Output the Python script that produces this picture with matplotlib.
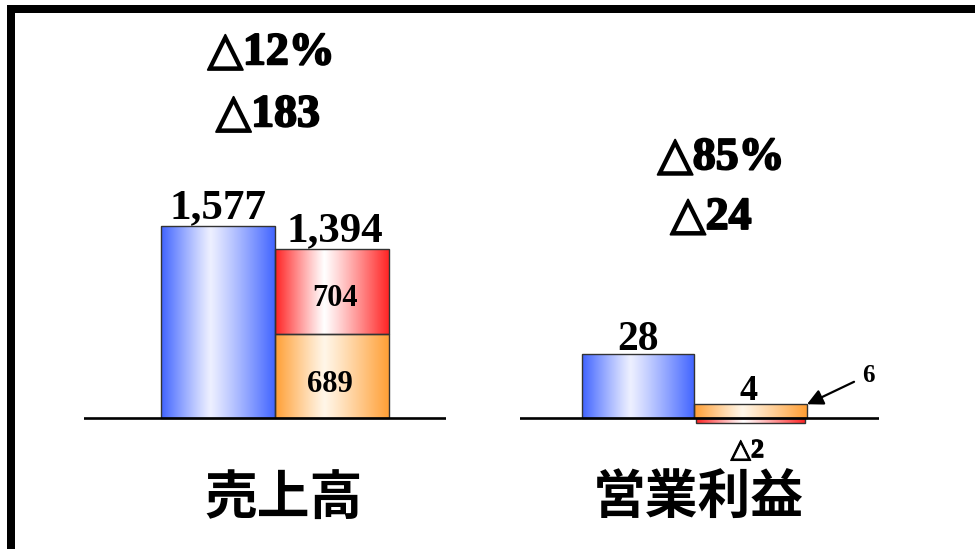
import numpy as np
import matplotlib
matplotlib.use('Agg')
import matplotlib.pyplot as plt
import matplotlib.patheffects as pe
from matplotlib.patches import Rectangle

# data
categories = ['売上高', '営業利益']
prev_vals = [1577, 28]
part_a = [689, 6]      # orange part
part_b = [704, -2]     # red part
cur_total = [1394, 4]
delta_pct = ['△12%', '△85%']
delta_abs = ['△183', '△24']

num_font = ['Liberation Serif', 'DejaVu Sans']
cjk_font = ['Noto Sans CJK JP']
heavy = [pe.withStroke(linewidth=1.4, foreground='k')]


def grad(edge, center, peak=0.43, n=256):
    t = np.linspace(0, 1, n)
    d = np.where(t < peak, (peak - t) / peak, (t - peak) / (1 - peak))
    w = d ** 1.1
    edge = np.array(edge)
    center = np.array(center)
    rgb = center[None, :] * (1 - w[:, None]) + edge[None, :] * w[:, None]
    return rgb[None, :, :]


blue_g = grad((0.25, 0.39, 1.0), (0.93, 0.94, 1.0))
orange_g = grad((1.0, 0.62, 0.2), (1.0, 0.965, 0.91))
red_g = grad((1.0, 0.13, 0.13), (1.0, 1.0, 1.0))


def gbar(ax, x, h, bottom, g, width):
    b = ax.bar(x, h, width=width, bottom=bottom, facecolor='none',
               edgecolor='#333333', lw=1, zorder=3)[0]
    y0, y1 = sorted([b.get_y(), b.get_y() + b.get_height()])
    im = ax.imshow(g, extent=[b.get_x(), b.get_x() + b.get_width(), y0, y1],
                   aspect='auto', zorder=2, interpolation='bilinear')
    im.set_clip_path(b)
    return b


fig = plt.figure(figsize=(9.75, 5.49), dpi=100)
W, H = 975., 549.
base = 131.  # baseline px from bottom

# left group: 売上高
ax1 = fig.add_axes([84 / W, 0, 362 / W, 1])
s1 = 0.1215
ax1.set_ylim(-base / s1, (H - base) / s1)
bw = 1.0
gbar(ax1, 0, prev_vals[0], 0, blue_g, bw)
gbar(ax1, 1, part_a[0], 0, orange_g, bw)
gbar(ax1, 1, part_b[0], part_a[0], red_g, bw)
ax1.set_xlim(-1.17, 2.0)

# right group: 営業利益
ax2 = fig.add_axes([520 / W, 0, 359 / W, 1])
s2 = 2.29
ax2.set_ylim(-base / s2, (H - base) / s2)
gbar(ax2, 0, prev_vals[1], 0, blue_g, bw)
gbar(ax2, 1, part_a[1], 0, orange_g, bw)
gbar(ax2, 1, part_b[1], 0, red_g, bw * 0.97)
ax2.set_xlim(-1.05, 2.14)

for ax in (ax1, ax2):
    ax.axhline(0, color='k', lw=1.9, zorder=4)
    ax.axis('off')

# value labels
ax1.annotate(f'{prev_vals[0]:,}', (0, prev_vals[0]), xytext=(0, 6), textcoords='offset points',
             ha='center', va='baseline', fontsize=31, fontweight='bold', family=num_font)
ax1.annotate(f'{cur_total[0]:,}', (1, cur_total[0]), xytext=(2, 5), textcoords='offset points',
             ha='center', va='baseline', fontsize=31, fontweight='bold', family=num_font)
ax1.annotate(f'{part_b[0]:,}', (1.03, part_a[0] + part_b[0] / 2), xytext=(0, -5),
             textcoords='offset points', ha='center', va='center',
             fontsize=22, fontweight='bold', family=num_font, zorder=5)
ax1.annotate(f'{part_a[0]:,}', (0.98, part_a[0] / 2), xytext=(0, -6),
             textcoords='offset points', ha='center', va='center',
             fontsize=22, fontweight='bold', family=num_font, zorder=5)

ax2.annotate(f'{prev_vals[1]}', (0, prev_vals[1]), xytext=(0, 3), textcoords='offset points',
             ha='center', va='baseline', fontsize=30, fontweight='bold', family=num_font)
ax2.annotate(f'{cur_total[1]}', (0.98, part_a[1]), xytext=(0, 3), textcoords='offset points',
             ha='center', va='baseline', fontsize=26, fontweight='bold', family=num_font)
ax2.annotate(f'{part_a[1]}', (1.5, part_a[1]), xytext=(44, 21), textcoords='offset points',
             ha='center', va='center', fontsize=18, fontweight='bold', family=num_font,
             arrowprops=dict(arrowstyle='-|>', color='k', lw=1.6, mutation_scale=24,
                             shrinkA=4, shrinkB=0))
ax2.annotate(f'△{abs(part_b[1])}', (0.97, part_b[1]), xytext=(0, -12), textcoords='offset points',
             ha='center', va='top', fontsize=19, fontweight='bold', family=num_font,
             path_effects=[pe.withStroke(linewidth=0.8, foreground='k')])

# change labels
ax1.text(0.517, 0.903, delta_pct[0], transform=ax1.transAxes, ha='center', va='center',
         fontsize=33, fontweight='bold', family=num_font, path_effects=heavy)
ax1.text(0.508, 0.790, delta_abs[0], transform=ax1.transAxes, ha='center', va='center',
         fontsize=33, fontweight='bold', family=num_font, path_effects=heavy)
ax2.text(0.56, 0.712, delta_pct[1], transform=ax2.transAxes, ha='center', va='center',
         fontsize=33, fontweight='bold', family=num_font, path_effects=heavy)
ax2.text(0.532, 0.603, delta_abs[1], transform=ax2.transAxes, ha='center', va='center',
         fontsize=33, fontweight='bold', family=num_font, path_effects=heavy)

# category labels
ax1.text(0.55, 0.093, categories[0], transform=ax1.transAxes, ha='center', va='center',
         fontsize=38, fontweight='bold', family=cjk_font)
ax2.text(0.496, 0.093, categories[1], transform=ax2.transAxes, ha='center', va='center',
         fontsize=38, fontweight='bold', family=cjk_font)

# frame (top and left only)
fig.add_artist(Rectangle((7 / W, 0), 8 / W, (H - 5) / H, transform=fig.transFigure,
                         color='k', lw=0))
fig.add_artist(Rectangle((7 / W, (H - 13) / H), (W - 7) / W, 8 / H, transform=fig.transFigure,
                         color='k', lw=0))

fig.savefig('out.png', dpi=100)
